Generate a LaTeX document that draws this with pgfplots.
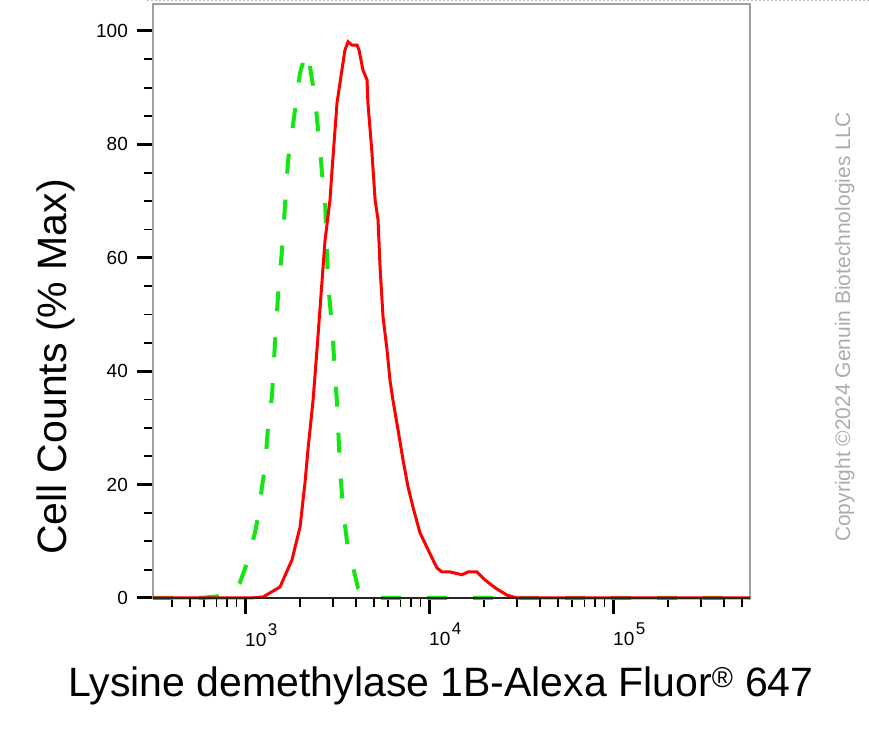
\documentclass[border=0pt]{standalone}
\usepackage{fontspec}
\setmainfont{Liberation Sans}
\usepackage{pgfplots}
\pgfplotsset{compat=1.18}
\definecolor{fcgreen}{RGB}{20,230,20}
\definecolor{fcred}{RGB}{255,0,0}
\newcommand{\dec}[1]{10\hspace{1.5pt}\raisebox{11pt}{\fontsize{17}{20}\selectfont #1}}
\begin{document}
\begin{tikzpicture}[x=1pt,y=1pt]
\path[use as bounding box] (0,0) rectangle (869,730);
\draw[gray!50, line width=1pt, dash pattern=on 2pt off 2pt] (147,729.5) -- (869,729.5);
\begin{axis}[
  at={(153pt,132pt)}, anchor=south west,
  scale only axis, width=597pt, height=594pt,
  xmode=log, xmin=316.23, xmax=555400,
  ymin=0, ymax=104.76,
  xtick={1000,10000,100000},
  xticklabels={\dec{3},\dec{4},\dec{5}},
  minor xtick={400,500,600,700,800,900,2000,3000,4000,5000,6000,7000,8000,9000,20000,30000,40000,50000,60000,70000,80000,90000,200000,300000,400000,500000},
  ytick={0,20,40,60,80,100},
  minor ytick={5,10,15,25,30,35,45,50,55,65,70,75,85,90,95},
  tick align=outside,
  xtick pos=bottom, ytick pos=left,
  major tick length=16pt, minor tick length=9pt,
  major tick style={line width=3pt, black},
  minor tick style={line width=1.8pt, black},
  axis line style={draw=gray!75, line width=2pt},
  tick label style={font=\fontsize{19}{23}\selectfont},
  yticklabel style={inner sep=9pt},
  xticklabel style={anchor=north west, inner xsep=0pt, inner ysep=9pt},
  /pgf/number format/assume math mode=true,
  clip=false,
]
\addplot[fcgreen, line width=4pt, dash pattern=on 20pt off 26pt] coordinates {
(316,0) (569,0) (828,0.5) (940,2.8) (1026,6.2) (1132,11.5) (1178,14.3) (1236,19.6)
(1285,23.1) (1334,30.2) (1403,35.8) (1455,45.0) (1510,53.1) (1589,61.4) (1648,69.0)
(1714,77.2) (1871,86.1) (1991,92.6) (2148,96.3) (2228,94.9) (2312,91.4) (2399,88.4)
(2495,82.5) (2559,79.5) (2618,75.0) (2723,70.2) (2825,55.6) (2972,47.8) (3083,39.7)
(3162,34.4) (3281,23.1) (3412,15.5) (3631,8.5) (3819,6.2) (4111,1.8) (4603,0.2)
(5093,0) (555400,0)
};
\addplot[fcred, line width=3pt] coordinates {
(316,0) (1064,0) (1253,0.18) (1549,1.94) (1799,6.7) (1991,12.5) (2118,20.3) (2198,26.1)
(2344,34.9) (2460,43.7) (2618,55.6) (2723,63.1) (2897,70.2) (2972,75.5) (3162,87.3)
(3281,90.8) (3491,96.6) (3631,98.1) (3819,97.5) (4064,97.5) (4169,96.6) (4375,93.1)
(4603,91.4) (4656,87.3) (4898,78.5) (5093,70.2) (5284,66.7) (5420,58.4) (5623,49.6)
(5916,43.7) (6138,38.4) (6368,34.9) (6792,29.6) (7228,24.3) (7691,19.6) (8185,16.0)
(8933,11.5) (9886,8.5) (11041,5.3) (11776,4.6) (13002,4.6) (15101,4.1) (16293,4.6)
(18239,4.6) (20137,3.2) (22856,1.8) (26546,0.5) (30061,0) (555400,0)
};
\draw[black!85, line width=1.5pt] (rel axis cs:0,0) -- (rel axis cs:1,0);
\end{axis}
\node[anchor=base, font=\fontsize{41}{48}\selectfont] at (441,33)
  {Lysine demethylase 1B-Alexa Fluor\textsuperscript{\textregistered} 647};
\node[anchor=base, rotate=90, font=\fontsize{41}{48}\selectfont] at (66,363)
  {Cell Counts (\% Max)};
\node[anchor=base, rotate=90, text=gray!65, font=\fontsize{21}{25}\selectfont] at (850,403)
  {Copyright \textcopyright2024 Genuin Biotechnologies LLC};
\end{tikzpicture}
\end{document}
